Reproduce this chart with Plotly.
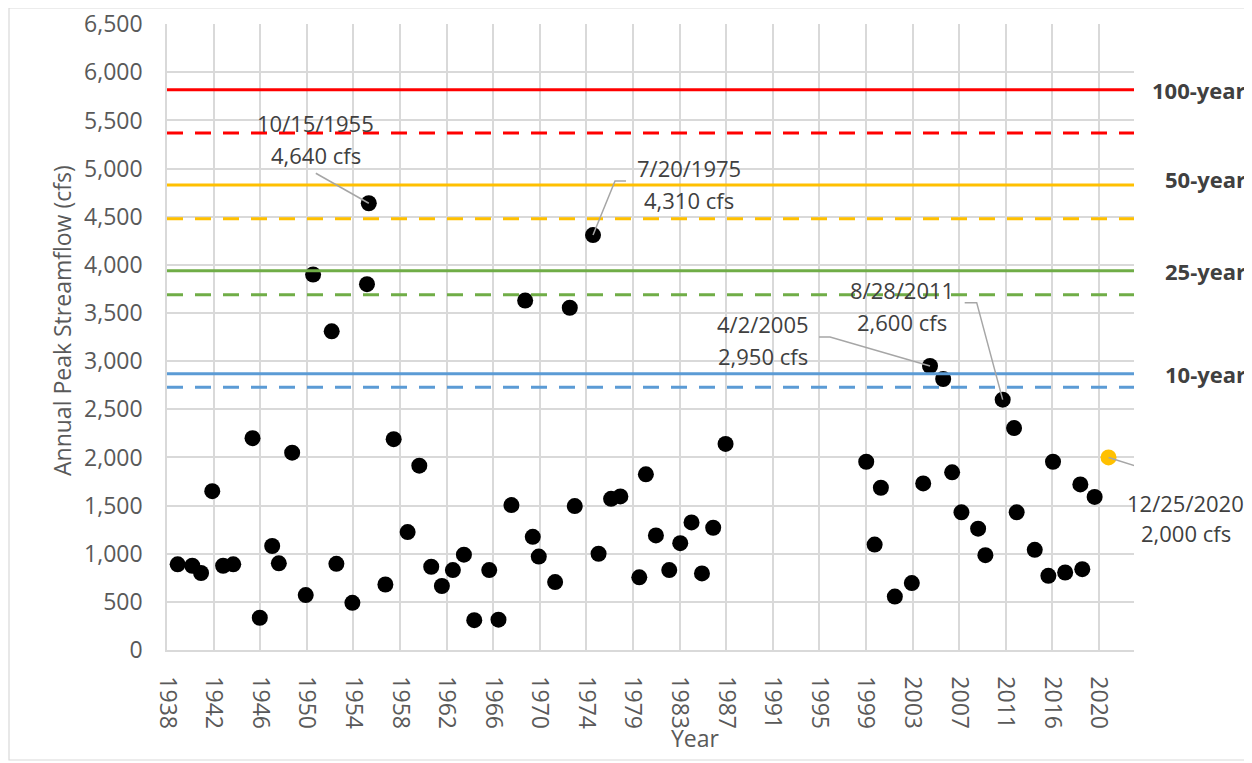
import plotly.graph_objects as go

# ---------------- data ----------------
peak_dates = [
    "1938-12-10", "1940-03-25", "1941-01-01", "1941-12-28", "1942-12-13", "1943-11-03",
    "1945-07-16", "1946-03-07", "1947-04-10", "1947-11-10", "1949-01-12", "1950-03-25",
    "1950-11-17", "1952-07-08", "1952-12-06", "1954-05-05", "1955-08-18", "1955-10-15",
    "1957-04-01", "1957-12-24", "1959-03-18", "1960-03-28", "1961-04-16", "1962-03-25",
    "1963-03-14", "1964-03-03", "1965-01-30", "1966-05-27", "1967-03-21", "1968-05-11",
    "1969-07-27", "1970-03-29", "1970-10-08", "1972-03-17", "1973-07-02", "1973-12-09",
    "1975-07-20", "1976-01-15", "1977-02-21", "1977-12-16", "1979-08-18", "1980-03-17",
    "1981-02-03", "1982-04-08", "1983-03-28", "1984-03-25", "1985-02-24", "1986-02-21",
    "1987-03-26", "1999-08-18", "2000-05-15", "2000-12-02", "2002-02-24", "2003-08-25",
    "2004-08-25", "2005-04-02", "2006-05-30", "2007-03-14", "2008-01-08", "2009-06-28",
    "2010-02-17", "2011-08-28", "2012-08-28", "2012-11-20", "2014-06-25", "2015-09-06",
    "2016-02-03", "2017-02-28", "2018-07-02", "2018-09-02", "2019-10-05",
]
peak_cfs = [
    890, 875, 800, 1650, 875, 890,
    2200, 335, 1080, 900, 2050, 570,
    3900, 3310, 895, 490, 3800, 4640,
    680, 2190, 1225, 1915, 865, 665,
    830, 990, 310, 830, 315, 1505,
    3630, 1175, 970, 705, 3555, 1495,
    4310, 1000, 1570, 1595, 755, 1825,
    1190, 830, 1110, 1325, 795, 1270,
    2140, 1955, 1095, 1685, 555, 695,
    1730, 2950, 2815, 1845, 1430, 1260,
    985, 2600, 2305, 1430, 1040, 770,
    1955, 805, 1720, 840, 1590,
]

latest_date = ["2020-12-25"]
latest_cfs = [2000]

rp_labels = ["100-year", "50-year", "25-year", "10-year"]
rp_solid = [5820, 4830, 3940, 2870]
rp_dashed = [5370, 4480, 3690, 2730]
rp_colors = ["#FF0000", "#FFC000", "#70AD47", "#5B9BD5"]
rp_label_y = [5820, 4890, 3940, 2870]

callout_dates = ["1955-10-15", "1975-07-20", "2005-04-02", "2011-08-28", "2020-12-25"]
callout_cfs = [4640, 4310, 2950, 2600, 2000]
callout_date_text = ["10/15/1955", "7/20/1975", "4/2/2005", "8/28/2011", "12/25/2020"]
callout_value_text = ["4,640 cfs", "4,310 cfs", "2,950 cfs", "2,600 cfs", "2,000 cfs"]

y_ticks = list(range(0, 6501, 500))

# ---------------- styling / layout helpers ----------------
FONT = "Open Sans"
GRID = "#D9D9D9"
TXT = "#595959"
LBL = "#404040"

PL, PW, PT, PH = 167, 967, 24, 626   # plot box in reference-image pixels
OFF = 8                               # page body margin

def px(xp):
    return (xp - PL) / PW

def py(yp):
    return (PT + PH - yp) / PH

# label offsets (pixels) relative to the marked point: (dx, dy_date, dy_value)
label_offsets = [(-53, 80, 48), (96, 67, 35), (-167, 42, 10), (-101, 110, 78), (77, -46, -76)]
# leader line paths (pixels, y up) relative to the marked point
leader_paths = [
    "M -53 30 L 0 0",
    "M 33 54 L 22 54 L 0 0",
    "M -111 29 L -100 29 L 0 0",
    "M -38 97 L -26 97 L 0 0",
    "M 0 0 L 76 -24",
]

fig = go.Figure()

fig.add_trace(go.Scatter(
    x=peak_dates, y=peak_cfs, mode="markers",
    marker=dict(size=16, color="#000000"),
    showlegend=False, cliponaxis=False,
))
fig.add_trace(go.Scatter(
    x=latest_date, y=latest_cfs, mode="markers",
    marker=dict(size=16, color="#FFC000"),
    showlegend=False, cliponaxis=False,
))

shapes = []
annotations = []

for lab, ys, yd, yl, col in zip(rp_labels, rp_solid, rp_dashed, rp_label_y, rp_colors):
    shapes.append(dict(type="line", xref="paper", x0=0, x1=1, yref="y", y0=ys, y1=ys,
                       line=dict(color=col, width=3), layer="above"))
    shapes.append(dict(type="line", xref="paper", x0=0, x1=1, yref="y", y0=yd, y1=yd,
                       line=dict(color=col, width=3, dash="16px,12px"), layer="above"))
    annotations.append(dict(xref="paper", x=px(1248), xanchor="right",
                            yref="y", y=yl, yanchor="middle", text="<b>%s</b>" % lab,
                            showarrow=False, font=dict(family=FONT, size=22, color=LBL)))

for d, v, t1, t2, off, path in zip(callout_dates, callout_cfs, callout_date_text,
                                     callout_value_text, label_offsets, leader_paths):
    shapes.append(dict(type="path", xref="x", yref="y", xsizemode="pixel", ysizemode="pixel",
                       xanchor=d, yanchor=v, path=path,
                       line=dict(color="#A6A6A6", width=1.5), layer="above"))
    annotations.append(dict(x=d, y=v, xref="x", yref="y", text=t1, showarrow=False,
                            xshift=off[0], yshift=off[1], xanchor="center", yanchor="middle",
                            font=dict(family=FONT, size=22, color=LBL)))
    annotations.append(dict(x=d, y=v, xref="x", yref="y", text=t2, showarrow=False,
                            xshift=off[0], yshift=off[2], xanchor="center", yanchor="middle",
                            font=dict(family=FONT, size=22, color=LBL)))

# axis titles
annotations.append(dict(xref="paper", yref="paper", x=px(695), y=py(738),
                        text="Year", showarrow=False, xanchor="center", yanchor="middle",
                        font=dict(family=FONT, size=23, color=TXT)))
annotations.append(dict(xref="paper", yref="paper", x=px(62), y=py(321),
                        text="Annual Peak Streamflow (cfs)", textangle=-90, showarrow=False,
                        xanchor="center", yanchor="middle",
                        font=dict(family=FONT, size=23, color=TXT)))

# chart-area border
shapes.append(dict(type="rect", xref="paper", yref="paper",
                   x0=px(9), x1=px(1250), y0=py(760), y1=py(8),
                   line=dict(color=GRID, width=1.2), layer="below"))

W, H = 1252 - OFF, 763 - OFF
fig.update_layout(
    width=W, height=H,
    margin=dict(l=PL - OFF, r=W - (PL - OFF) - PW, t=PT - OFF, b=H - (PT - OFF) - PH,
                autoexpand=False),
    paper_bgcolor="white", plot_bgcolor="white",
    font=dict(family=FONT, color=TXT, size=23),
    shapes=shapes, annotations=annotations,
    xaxis=dict(
        type="date",
        range=["1938-01-01", "2023-03-25"],
        tick0="1938-01-01", dtick=1500 * 86400000, tickformat="%Y",
        tickangle=90, ticks="", ticklabelstandoff=20, automargin=False,
        showgrid=True, gridcolor=GRID, gridwidth=1.5,
        showline=True, linecolor=GRID, linewidth=1.5,
        zeroline=False, tickfont=dict(family=FONT, size=23, color=TXT),
    ),
    yaxis=dict(
        range=[0, 6502], tickvals=y_ticks, tickformat=",",
        ticks="", ticklabelstandoff=18, ticklabeloverflow="allow", automargin=False,
        showgrid=True, gridcolor=GRID, gridwidth=1.5,
        showline=True, linecolor=GRID, linewidth=1.5,
        zeroline=False, tickfont=dict(family=FONT, size=23, color=TXT),
    ),
)

fig.write_html("out.html")
